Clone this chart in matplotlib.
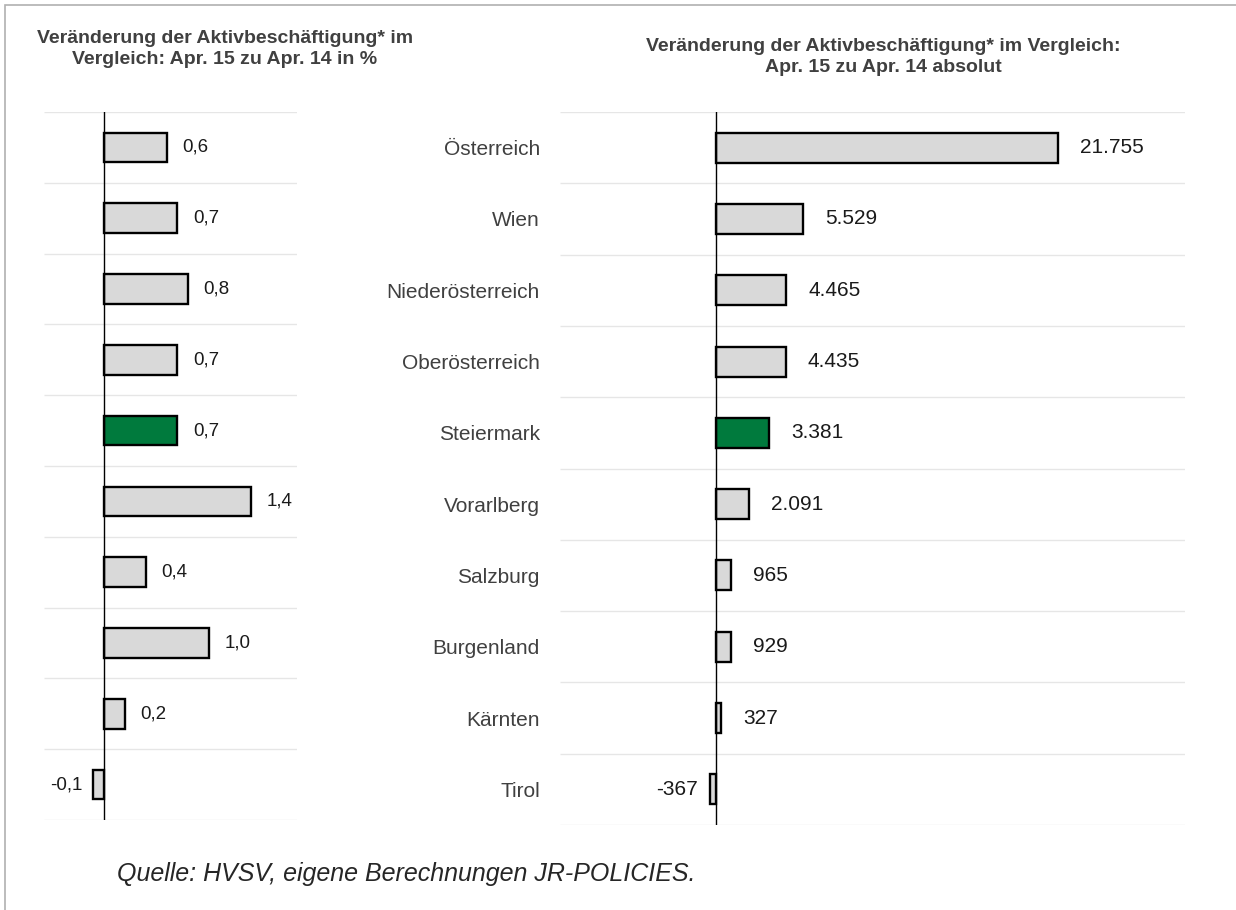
"""
Aktivbeschäftigung Apr. 15 vs Apr. 14 - two horizontal bar panels
"""

import numpy as np
import matplotlib.pyplot as plt
from matplotlib.patches import Rectangle

plt.rcParams['font.family'] = ['Liberation Sans', 'DejaVu Sans']

regions = ["Österreich", "Wien", "Niederösterreich", "Oberösterreich", "Steiermark",
           "Vorarlberg", "Salzburg", "Burgenland", "Kärnten", "Tirol"]
pct_change = [0.6, 0.7, 0.8, 0.7, 0.7, 1.4, 0.4, 1.0, 0.2, -0.1]
abs_change = [21755, 5529, 4465, 4435, 3381, 2091, 965, 929, 327, -367]
pct_labels = ["0,6", "0,7", "0,8", "0,7", "0,7", "1,4", "0,4", "1,0", "0,2", "-0,1"]
abs_labels = ["21.755", "5.529", "4.465", "4.435", "3.381", "2.091", "965", "929", "327", "-367"]
highlight = "Steiermark"

grey = "#d9d9d9"
green = "#007a3d"
colors = [green if r == highlight else grey for r in regions]
y = np.arange(len(regions))

fig = plt.figure(figsize=(12.36, 9.10), dpi=100)
fig.patches.append(Rectangle((0.004, -0.01), 1.2, 1.004, transform=fig.transFigure,
                             fill=False, edgecolor="#b0b0b0", linewidth=1.2))

ax1 = fig.add_axes([0.0356, 0.0989, 0.2047, 0.778])
ax2 = fig.add_axes([0.4531, 0.0934, 0.5057, 0.7835])


def draw_panel(ax, values, labels, xlim, offset, neg_offset, fs):
    ax.barh(y, values, height=0.42, color=colors, edgecolor="black", linewidth=1.7, zorder=3)
    ax.set_xlim(*xlim)
    ax.set_ylim(len(regions) - 0.5, -0.5)
    ax.hlines(np.arange(-0.5, len(regions)), xlim[0], xlim[1], color="#e6e6e6", linewidth=1, zorder=1)
    ax.axvline(0, color="black", linewidth=1, zorder=4)
    for i, (v, lab) in enumerate(zip(values, labels)):
        if v >= 0:
            ax.text(v + offset, i, lab, va="center", ha="left", fontsize=fs, color="#1a1a1a")
        else:
            ax.text(v - neg_offset, i, lab, va="center", ha="right", fontsize=fs, color="#1a1a1a")
    ax.set_xticks([])
    for s in ax.spines.values():
        s.set_visible(False)


draw_panel(ax1, pct_change, pct_labels, (-0.57, 1.84), 0.15, 0.1, 13.5)
ax1.set_yticks([])

draw_panel(ax2, abs_change, abs_labels, (-9936, 29870), 1400, 800, 15)
ax2.set_yticks(y)
ax2.set_yticklabels(regions, fontsize=15, color="#404040")
ax2.tick_params(axis="y", length=0, pad=14.5)

fig.text(0.182, 0.967, "Veränderung der Aktivbeschäftigung* im\nVergleich: Apr. 15 zu Apr. 14 in %",
         ha="center", va="top", fontsize=14, fontweight="bold", color="#404040", linespacing=1.3)
fig.text(0.7145, 0.958, "Veränderung der Aktivbeschäftigung* im Vergleich:\nApr. 15 zu Apr. 14 absolut",
         ha="center", va="top", fontsize=14, fontweight="bold", color="#404040", linespacing=1.3)
fig.text(0.095, 0.04, "Quelle: HVSV, eigene Berechnungen JR-POLICIES.",
         ha="left", va="center", fontsize=18, style="italic", color="#262626")

fig.savefig("out.png", dpi=100)
